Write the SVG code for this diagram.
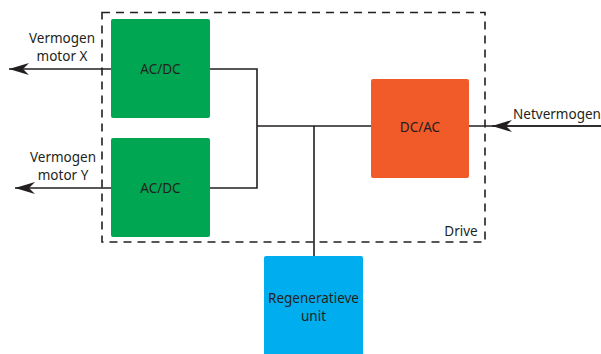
<svg xmlns="http://www.w3.org/2000/svg" width="601" height="354" viewBox="0 0 601 354">
<style>
text{font-family:"Noto Sans","Open Sans",sans-serif;font-size:13.5px;fill:#231f20;text-anchor:middle}
.ln{stroke:#231f20;stroke-width:1.6;fill:none}
</style>
<defs>
<marker id="ah" viewBox="0 0 20 12" markerWidth="20" markerHeight="12" refX="20" refY="6" orient="auto" markerUnits="userSpaceOnUse">
<path d="M20,6 L0,0 L6,6 L0,12 Z" fill="#231f20"/>
</marker>
</defs>
<rect x="102" y="12.5" width="383" height="229.5" fill="none" stroke="#231f20" stroke-width="1.6" stroke-dasharray="8,6"/>
<text x="461" y="236">Drive</text>
<g id="connectors">
<line class="ln" x1="111" y1="69" x2="9" y2="69" marker-end="url(#ah)"/>
<line class="ln" x1="111" y1="188" x2="15" y2="188" marker-end="url(#ah)"/>
<polyline class="ln" points="210,69 257,69 257,188 210,188"/>
<line class="ln" x1="257" y1="126" x2="371" y2="126"/>
<line class="ln" x1="314" y1="126" x2="314" y2="257"/>
<line class="ln" x1="601" y1="126" x2="469" y2="126"/>
<line class="ln" x1="601" y1="126" x2="492" y2="126" marker-end="url(#ah)"/>
</g>
<g id="acdc1">
<rect x="111" y="19" width="99" height="99" rx="2" fill="#00a651"/>
<text x="160.5" y="74">AC/DC</text>
</g>
<g id="acdc2">
<rect x="111" y="138" width="99" height="99" rx="2" fill="#00a651"/>
<text x="160.5" y="193">AC/DC</text>
</g>
<g id="dcac">
<rect x="371" y="79" width="98" height="99" rx="2" fill="#f15a29"/>
<text x="420" y="131.5">DC/AC</text>
</g>
<g id="regen">
<rect x="264" y="256" width="99" height="100" rx="2" fill="#00aeef"/>
<text x="313.5" y="303">Regeneratieve</text>
<text x="313.5" y="321">unit</text>
</g>
<g id="labels">
<text x="62" y="43">Vermogen</text>
<text x="62" y="61">motor X</text>
<text x="63" y="162">Vermogen</text>
<text x="63" y="180">motor Y</text>
<text x="557" y="119">Netvermogen</text>
</g>
</svg>
